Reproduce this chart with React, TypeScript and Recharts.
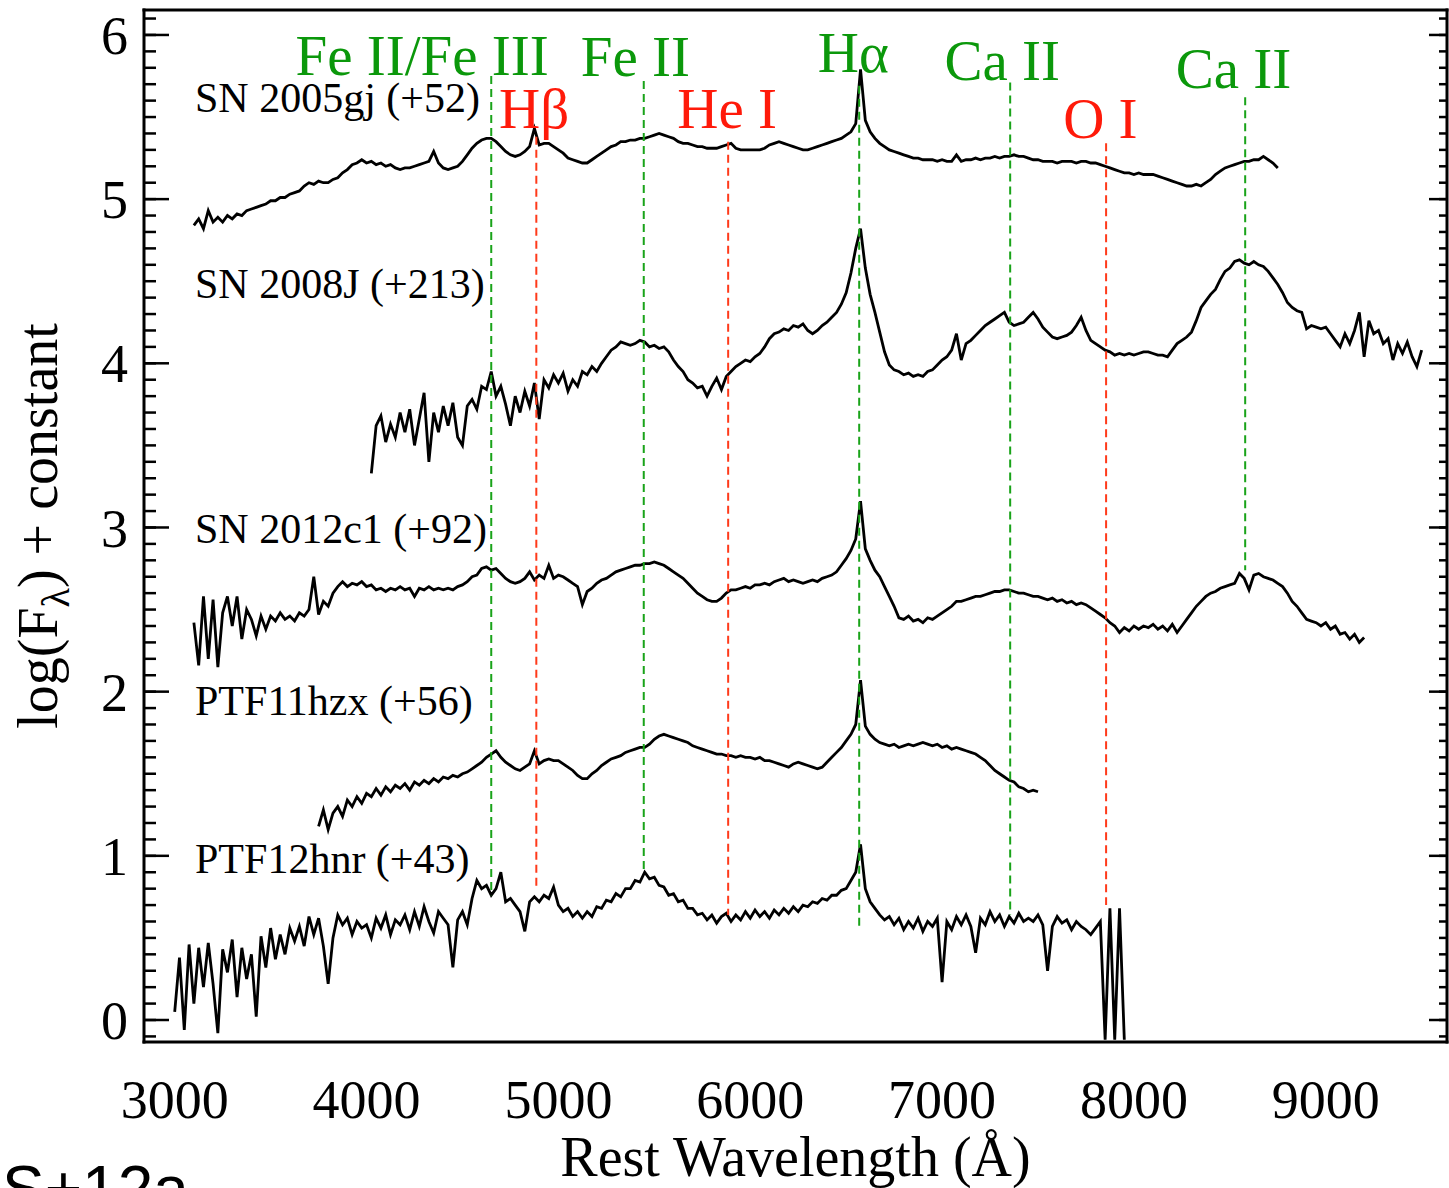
import React from 'react';
import { LineChart, Line, XAxis, YAxis, ReferenceLine, ReferenceDot } from 'recharts';

const SERIF = '"Liberation Serif", "Times New Roman", Times, serif';
const GREEN = '#0b980b';
const GREEN_DASH = '#19a319';
const RED = '#ff1a0a';
const RED_DASH = '#ff3a1a';

// all spectra are sampled every 25 Å from their first wavelength
const STEP = 25;

const sn2005gjStart = 3100;
const sn2005gjFlux = [
  4.84, 4.88, 4.82, 4.93, 4.86, 4.89, 4.86, 4.90, 4.88, 4.91, 4.90, 4.93, 4.94, 4.95, 4.96, 4.97, 4.99, 4.99, 5.01, 5.01,
  5.03, 5.04, 5.05, 5.08, 5.10, 5.09, 5.11, 5.10, 5.10, 5.12, 5.13, 5.16, 5.18, 5.21, 5.22, 5.24, 5.22, 5.23, 5.21, 5.22,
  5.20, 5.21, 5.19, 5.18, 5.19, 5.19, 5.20, 5.21, 5.22, 5.23, 5.29, 5.22, 5.19, 5.18, 5.19, 5.20, 5.23, 5.27, 5.31, 5.34,
  5.36, 5.37, 5.37, 5.35, 5.32, 5.29, 5.27, 5.26, 5.27, 5.29, 5.32, 5.43, 5.33, 5.34, 5.34, 5.32, 5.30, 5.28, 5.25, 5.24,
  5.23, 5.22, 5.22, 5.24, 5.26, 5.28, 5.30, 5.32, 5.33, 5.35, 5.35, 5.36, 5.36, 5.37, 5.37, 5.38, 5.39, 5.40, 5.39, 5.38,
  5.37, 5.35, 5.34, 5.34, 5.33, 5.32, 5.32, 5.31, 5.31, 5.31, 5.32, 5.33, 5.34, 5.31, 5.30, 5.30, 5.30, 5.30, 5.30, 5.31,
  5.33, 5.34, 5.35, 5.34, 5.33, 5.32, 5.31, 5.30, 5.30, 5.31, 5.32, 5.33, 5.34, 5.35, 5.36, 5.37, 5.39, 5.41, 5.46, 5.79,
  5.48, 5.41, 5.37, 5.34, 5.32, 5.30, 5.29, 5.28, 5.27, 5.26, 5.25, 5.25, 5.24, 5.24, 5.24, 5.23, 5.24, 5.23, 5.23, 5.27,
  5.23, 5.24, 5.24, 5.25, 5.24, 5.25, 5.25, 5.26, 5.25, 5.26, 5.26, 5.27, 5.26, 5.26, 5.25, 5.24, 5.24, 5.23, 5.23, 5.23,
  5.22, 5.23, 5.23, 5.23, 5.22, 5.23, 5.23, 5.22, 5.22, 5.21, 5.20, 5.19, 5.18, 5.17, 5.16, 5.16, 5.15, 5.16, 5.15, 5.15,
  5.15, 5.14, 5.13, 5.12, 5.11, 5.10, 5.09, 5.08, 5.08, 5.09, 5.08, 5.10, 5.12, 5.15, 5.17, 5.19, 5.20, 5.21, 5.22, 5.23,
  5.23, 5.24, 5.24, 5.26, 5.24, 5.22, 5.19,
];

const sn2008jStart = 4025;
const sn2008jFlux = [
  3.33, 3.62, 3.68, 3.52, 3.63, 3.55, 3.70, 3.58, 3.72, 3.50, 3.66, 3.82, 3.40, 3.70, 3.58, 3.74, 3.62, 3.76, 3.55, 3.50,
  3.74, 3.78, 3.72, 3.86, 3.84, 3.95, 3.80, 3.86, 3.75, 3.62, 3.80, 3.70, 3.83, 3.74, 3.88, 3.66, 3.90, 3.85, 3.93, 3.88,
  3.94, 3.83, 3.90, 3.86, 3.95, 3.93, 3.98, 3.95, 4.00, 4.04, 4.08, 4.10, 4.13, 4.12, 4.11, 4.12, 4.14, 4.13, 4.10, 4.11,
  4.09, 4.10, 4.07, 4.02, 3.98, 3.95, 3.90, 3.88, 3.85, 3.86, 3.80, 3.86, 3.91, 3.84, 3.92, 3.95, 3.98, 4.00, 4.02, 4.01,
  4.04, 4.06, 4.10, 4.15, 4.18, 4.19, 4.21, 4.20, 4.23, 4.22, 4.24, 4.20, 4.18, 4.20, 4.23, 4.25, 4.28, 4.31, 4.36, 4.43,
  4.55, 4.70, 4.82, 4.58, 4.42, 4.31, 4.19, 4.07, 3.99, 3.96, 3.95, 3.93, 3.94, 3.92, 3.93, 3.92, 3.95, 3.96, 3.99, 4.02,
  4.04, 4.08, 4.18, 4.02, 4.12, 4.14, 4.17, 4.20, 4.23, 4.25, 4.27, 4.29, 4.31, 4.25, 4.23, 4.24, 4.25, 4.28, 4.31, 4.27,
  4.22, 4.19, 4.16, 4.15, 4.16, 4.17, 4.19, 4.23, 4.28, 4.20, 4.14, 4.12, 4.10, 4.08, 4.07, 4.05, 4.06, 4.05, 4.06, 4.05,
  4.06, 4.07, 4.07, 4.06, 4.05, 4.05, 4.04, 4.08, 4.12, 4.14, 4.16, 4.19, 4.26, 4.34, 4.38, 4.42, 4.45, 4.51, 4.56, 4.58,
  4.62, 4.63, 4.61, 4.60, 4.62, 4.60, 4.59, 4.56, 4.52, 4.48, 4.43, 4.37, 4.34, 4.32, 4.31, 4.21, 4.23, 4.22, 4.21, 4.22,
  4.18, 4.14, 4.10, 4.18, 4.12, 4.20, 4.31, 4.04, 4.26, 4.18, 4.20, 4.12, 4.15, 4.02, 4.12, 4.06, 4.13, 4.04, 3.98, 4.08,
];

const sn2012c1Start = 3100;
const sn2012c1Flux = [
  2.42, 2.16, 2.58, 2.20, 2.56, 2.15, 2.48, 2.58, 2.40, 2.58, 2.32, 2.50, 2.44, 2.34, 2.46, 2.38, 2.46, 2.43, 2.48, 2.44,
  2.46, 2.43, 2.48, 2.46, 2.50, 2.70, 2.47, 2.55, 2.52, 2.60, 2.64, 2.67, 2.64, 2.66, 2.65, 2.67, 2.64, 2.65, 2.62, 2.63,
  2.61, 2.63, 2.62, 2.64, 2.62, 2.63, 2.58, 2.63, 2.62, 2.64, 2.62, 2.63, 2.62, 2.63, 2.62, 2.64, 2.65, 2.67, 2.70, 2.71,
  2.75, 2.76, 2.74, 2.75, 2.72, 2.69, 2.67, 2.66, 2.67, 2.69, 2.73, 2.68, 2.71, 2.69, 2.77, 2.69, 2.71, 2.70, 2.68, 2.66,
  2.64, 2.53, 2.61, 2.63, 2.66, 2.68, 2.69, 2.71, 2.73, 2.74, 2.75, 2.76, 2.77, 2.77, 2.78, 2.78, 2.79, 2.78, 2.77, 2.75,
  2.73, 2.71, 2.69, 2.66, 2.63, 2.60, 2.58, 2.56, 2.55, 2.55, 2.57, 2.60, 2.62, 2.62, 2.63, 2.64, 2.63, 2.65, 2.65, 2.66,
  2.65, 2.67, 2.68, 2.69, 2.67, 2.68, 2.67, 2.66, 2.67, 2.68, 2.67, 2.69, 2.70, 2.71, 2.73, 2.77, 2.81, 2.86, 2.93, 3.16,
  2.87, 2.80, 2.74, 2.70, 2.64, 2.58, 2.52, 2.45, 2.44, 2.46, 2.43, 2.44, 2.42, 2.45, 2.44, 2.46, 2.48, 2.50, 2.52, 2.55,
  2.55, 2.56, 2.57, 2.58, 2.58, 2.59, 2.60, 2.61, 2.61, 2.62, 2.62, 2.61, 2.60, 2.60, 2.59, 2.58, 2.58, 2.57, 2.56, 2.57,
  2.55, 2.56, 2.54, 2.55, 2.53, 2.54, 2.53, 2.51, 2.49, 2.47, 2.45, 2.42, 2.40, 2.36, 2.39, 2.37, 2.40, 2.38, 2.40, 2.39,
  2.41, 2.38, 2.40, 2.37, 2.41, 2.36, 2.40, 2.44, 2.48, 2.52, 2.55, 2.58, 2.60, 2.61, 2.63, 2.64, 2.65, 2.66, 2.72, 2.69,
  2.62, 2.71, 2.72, 2.70, 2.69, 2.68, 2.66, 2.64, 2.60, 2.55, 2.52, 2.48, 2.44, 2.43, 2.42, 2.40, 2.42, 2.38, 2.40, 2.35,
  2.36, 2.32, 2.35, 2.30, 2.33,
];

const ptf11hzxStart = 3750;
const ptf11hzxFlux = [
  1.18, 1.28, 1.16, 1.26, 1.30, 1.24, 1.34, 1.30, 1.36, 1.32, 1.38, 1.36, 1.41, 1.37, 1.42, 1.39, 1.43, 1.41, 1.44, 1.40,
  1.45, 1.43, 1.46, 1.44, 1.47, 1.45, 1.48, 1.47, 1.49, 1.48, 1.50, 1.51, 1.53, 1.55, 1.57, 1.60, 1.62, 1.64, 1.60, 1.57,
  1.55, 1.53, 1.52, 1.54, 1.56, 1.64, 1.56, 1.58, 1.59, 1.58, 1.58, 1.56, 1.54, 1.52, 1.49, 1.47, 1.47, 1.50, 1.52, 1.55,
  1.57, 1.59, 1.60, 1.61, 1.63, 1.64, 1.65, 1.66, 1.66, 1.68, 1.71, 1.73, 1.74, 1.73, 1.72, 1.71, 1.70, 1.69, 1.67, 1.66,
  1.65, 1.64, 1.63, 1.62, 1.62, 1.61, 1.61, 1.60, 1.61, 1.60, 1.60, 1.59, 1.60, 1.58, 1.58, 1.57, 1.56, 1.55, 1.54, 1.56,
  1.57, 1.56, 1.55, 1.54, 1.53, 1.54, 1.57, 1.60, 1.63, 1.66, 1.70, 1.74, 1.80, 2.07, 1.79, 1.74, 1.71, 1.69, 1.68, 1.67,
  1.68, 1.66, 1.67, 1.68, 1.67, 1.68, 1.69, 1.68, 1.67, 1.68, 1.66, 1.67, 1.65, 1.66, 1.65, 1.64, 1.63, 1.62, 1.60, 1.58,
  1.55, 1.52, 1.50, 1.48, 1.46, 1.45, 1.42, 1.41, 1.39, 1.40, 1.39,
];

const ptf12hnrStart = 3000;
const ptf12hnrFlux = [
  0.05, 0.38, -0.06, 0.46, 0.10, 0.44, 0.20, 0.47, 0.22, -0.08, 0.43, 0.29, 0.49, 0.14, 0.44, 0.25, 0.40, 0.02, 0.51, 0.32,
  0.56, 0.37, 0.52, 0.40, 0.56, 0.48, 0.57, 0.45, 0.63, 0.52, 0.62, 0.45, 0.22, 0.50, 0.64, 0.58, 0.62, 0.52, 0.60, 0.56,
  0.58, 0.50, 0.62, 0.56, 0.64, 0.52, 0.61, 0.58, 0.64, 0.55, 0.66, 0.57, 0.69, 0.60, 0.53, 0.66, 0.62, 0.58, 0.32, 0.61,
  0.66, 0.58, 0.74, 0.85, 0.80, 0.82, 0.76, 0.80, 0.90, 0.72, 0.74, 0.70, 0.66, 0.54, 0.72, 0.75, 0.72, 0.76, 0.74, 0.81,
  0.70, 0.66, 0.68, 0.63, 0.66, 0.62, 0.66, 0.63, 0.69, 0.68, 0.73, 0.72, 0.77, 0.75, 0.80, 0.80, 0.85, 0.84, 0.90, 0.86,
  0.87, 0.82, 0.81, 0.76, 0.77, 0.72, 0.73, 0.68, 0.68, 0.64, 0.65, 0.61, 0.64, 0.59, 0.63, 0.65, 0.60, 0.64, 0.61, 0.66,
  0.62, 0.67, 0.63, 0.66, 0.62, 0.67, 0.64, 0.68, 0.65, 0.69, 0.66, 0.70, 0.69, 0.72, 0.71, 0.74, 0.73, 0.76, 0.76, 0.79,
  0.80, 0.85, 0.90, 1.07, 0.80, 0.72, 0.68, 0.64, 0.61, 0.63, 0.58, 0.62, 0.55, 0.60, 0.56, 0.62, 0.54, 0.60, 0.57, 0.62,
  0.23, 0.60, 0.55, 0.63, 0.58, 0.64, 0.57, 0.41, 0.62, 0.58, 0.66, 0.60, 0.64, 0.57, 0.63, 0.59, 0.65, 0.60, 0.62, 0.60,
  0.64, 0.58, 0.30, 0.57, 0.63, 0.59, 0.61, 0.55, 0.60, 0.57, 0.55, 0.52, 0.56, 0.60, -0.12, 0.68, -0.12, 0.68, -0.12,
];

const spectrumNames = ['SN 2005gj (+52)', 'SN 2008J (+213)', 'SN 2012c1 (+92)', 'PTF11hzx (+56)', 'PTF12hnr (+43)'];
const nameLevel = [5.53, 4.4, 2.905, 1.857, 0.895];
const NAME_WAVE = 3106;

// identified features: dashed marker from top to bottom level, tag above it
const featureNames = ['Fe II/Fe III', 'Hβ', 'Fe II', 'He I', 'Hα', 'Ca II', 'O I', 'Ca II'];
const featureWave = [4650, 4885, 5445, 5885, 6568, 7355, 7855, 8580];
const featureRed = [false, true, false, true, false, false, true, false];
const featureTop = [5.75, 5.38, 5.72, 5.35, 5.69, 5.71, 5.34, 5.62];
const featureBottom = [0.76, 0.79, 0.91, 0.64, 0.56, 0.64, 0.7, 2.74];
const tagWave = [4290, 4874, 5401, 5880, 6537, 7314, 7825, 8519];
const tagLevel = [5.755, 5.432, 5.749, 5.432, 5.773, 5.725, 5.371, 5.676];

const xMajor = [3000, 4000, 5000, 6000, 7000, 8000, 9000];
const yMajor = [0, 1, 2, 3, 4, 5, 6];
const xMinor: number[] = [];
for (let w = 2900; w <= 9600; w += 100) xMinor.push(w);
const yMinor: number[] = [];
for (let i = -1; i <= 61; i++) yMinor.push(i / 10);

const X_DOMAIN: [number, number] = [2840, 9632];
const Y_DOMAIN: [number, number] = [-0.134, 6.152];

const toRows = (start: number, flux: number[]) => flux.map((f, i) => ({ w: start + i * STEP, f }));

const spectra = [
  toRows(sn2005gjStart, sn2005gjFlux),
  toRows(sn2008jStart, sn2008jFlux),
  toRows(sn2012c1Start, sn2012c1Flux),
  toRows(ptf11hzxStart, ptf11hzxFlux),
  toRows(ptf12hnrStart, ptf12hnrFlux),
];

const frame = { stroke: '#000', strokeWidth: 3, strokeLinecap: 'square' as const };
const tickStroke = { stroke: '#000', strokeWidth: 2.5 };
const noLabel = () => <g />;

// inward tick marks along one edge of the frame (no labels)
const xTickRow = (id: string, orientation: 'top' | 'bottom', ticks: number[], size: number, edge: boolean) => (
  <XAxis
    key={id}
    xAxisId={id}
    type="number"
    orientation={orientation}
    domain={X_DOMAIN}
    allowDataOverflow
    ticks={ticks}
    interval={0}
    mirror
    height={1}
    tick={noLabel}
    tickSize={size}
    tickLine={tickStroke}
    stroke="#000"
    axisLine={edge ? frame : false}
  />
);

const yTickRow = (id: string, orientation: 'left' | 'right', ticks: number[], size: number, edge: boolean) => (
  <YAxis
    key={id}
    yAxisId={id}
    type="number"
    orientation={orientation}
    domain={Y_DOMAIN}
    allowDataOverflow
    ticks={ticks}
    interval={0}
    mirror
    width={1}
    tick={noLabel}
    tickSize={size}
    tickLine={tickStroke}
    stroke="#000"
    axisLine={edge ? frame : false}
  />
);

const tagText = (text: string, color: string, size: number, anchor: 'start' | 'middle') => (p: any) => {
  const vb = p.viewBox || { x: 0, y: 0 };
  return (
    <text x={vb.x} y={vb.y} fill={color} fontSize={size} fontFamily={SERIF} textAnchor={anchor}>
      {text}
    </text>
  );
};

const xTitle = (p: any) => {
  const vb = p.viewBox || { x: 144, y: 1042, width: 1303, height: 1 };
  return (
    <text x={vb.x + vb.width / 2} y={vb.y + 134} textAnchor="middle" fontSize={56} fontFamily={SERIF} fill="#000">
      Rest Wavelength (Å)
    </text>
  );
};

const yTitle = (p: any) => {
  const vb = p.viewBox || { x: 143, y: 10, width: 1, height: 1032 };
  const cx = vb.x - 86;
  const cy = vb.y + vb.height / 2;
  return (
    <text transform={`translate(${cx},${cy}) rotate(-90)`} textAnchor="middle" fontSize={56} fontFamily={SERIF} fill="#000">
      log(F
      <tspan dy={12} fontSize={40}>λ</tspan>
      <tspan dy={-12}>) + constant</tspan>
    </text>
  );
};

export default function App() {
  return (
    <div style={{ position: 'absolute', left: 0, top: 0, width: 1449, height: 1188, overflow: 'hidden', background: '#fff' }}>
      <LineChart width={1449} height={1188} margin={{ top: 10, right: 2, bottom: 145, left: 143 }}>
        <XAxis
          xAxisId="x"
          dataKey="w"
          type="number"
          domain={X_DOMAIN}
          allowDataOverflow
          ticks={xMajor}
          interval={0}
          height={1}
          tickSize={0}
          tickMargin={38}
          tickLine={false}
          stroke="#000"
          axisLine={frame}
          tick={{ fontSize: 54, fill: '#000', fontFamily: SERIF }}
          label={xTitle}
        />
        <YAxis
          yAxisId="y"
          type="number"
          domain={Y_DOMAIN}
          allowDataOverflow
          ticks={yMajor}
          interval={0}
          width={1}
          tickSize={0}
          tickMargin={16}
          tickLine={false}
          stroke="#000"
          axisLine={frame}
          tick={{ fontSize: 54, fill: '#000', fontFamily: SERIF }}
          label={yTitle}
        />
        {xTickRow('bMaj', 'bottom', xMajor, 20, false)}
        {xTickRow('bMin', 'bottom', xMinor, 10, false)}
        {xTickRow('tMaj', 'top', xMajor, 18, true)}
        {xTickRow('tMin', 'top', xMinor, 8, false)}
        {yTickRow('lMaj', 'left', yMajor, 25, false)}
        {yTickRow('lMin', 'left', yMinor, 11, false)}
        {yTickRow('rMaj', 'right', yMajor, 18, true)}
        {yTickRow('rMin', 'right', yMinor, 7, false)}

        {spectra.map((rows, i) => (
          <Line
            key={spectrumNames[i]}
            xAxisId="x"
            yAxisId="y"
            data={rows}
            dataKey="f"
            type="linear"
            stroke="#000"
            strokeWidth={2.8}
            dot={false}
            isAnimationActive={false}
          />
        ))}

        {featureWave.map((w, i) => (
          <ReferenceLine
            key={`mark-${i}`}
            xAxisId="x"
            yAxisId="y"
            segment={[{ x: w, y: featureTop[i] }, { x: w, y: featureBottom[i] }]}
            stroke={featureRed[i] ? RED_DASH : GREEN_DASH}
            strokeWidth={2}
            strokeDasharray="8 5"
          />
        ))}

        {featureNames.map((t, i) => (
          <ReferenceDot
            key={`tag-${i}`}
            xAxisId="x"
            yAxisId="y"
            x={tagWave[i]}
            y={tagLevel[i]}
            r={0}
            fill="none"
            stroke="none"
            label={tagText(t, featureRed[i] ? RED : GREEN, 57, 'middle')}
          />
        ))}

        {spectrumNames.map((t, i) => (
          <ReferenceDot
            key={`name-${i}`}
            xAxisId="x"
            yAxisId="y"
            x={NAME_WAVE}
            y={nameLevel[i]}
            r={0}
            fill="none"
            stroke="none"
            label={tagText(t, '#000', 42, 'start')}
          />
        ))}
      </LineChart>
      <div
        style={{
          position: 'absolute',
          left: 2,
          top: 1157,
          fontFamily: '"Liberation Sans", Arial, sans-serif',
          fontSize: 64,
          lineHeight: 1,
          color: '#000',
          whiteSpace: 'nowrap',
        }}
      >
        S+12a
      </div>
    </div>
  );
}
